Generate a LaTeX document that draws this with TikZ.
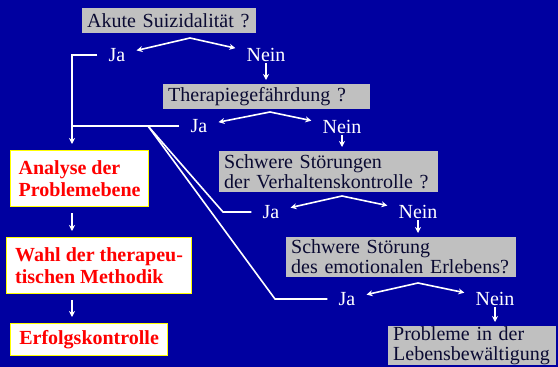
\documentclass[tikz,border=0pt]{standalone}
\usepackage{fontspec}
\setmainfont{Liberation Serif}
\usetikzlibrary{arrows.meta}
\definecolor{bgblue}{RGB}{0,0,160}
\definecolor{boxgray}{RGB}{192,192,192}
\definecolor{navy}{RGB}{10,10,50}
\definecolor{boxyellow}{RGB}{255,255,0}
\tikzset{
 frage/.style={fill=boxgray,text=navy,anchor=north west,inner xsep=5pt,inner ysep=0pt,align=left,font=\fontsize{20}{20}\selectfont},
 antw/.style={text=white,inner xsep=11pt,inner ysep=1pt,font=\fontsize{20}{20}\selectfont},
 schritt/.style={fill=white,draw=boxyellow,line width=1.2pt,text=red,anchor=north west,inner xsep=4pt,inner ysep=0pt,align=left,font=\fontsize{20}{22}\selectfont\bfseries},
 line/.style={white,line width=1.6pt},
 pfeil/.style={line,-{Stealth[length=6pt,width=6pt]}}
}
\begin{document}
\begin{tikzpicture}
[x=1pt,y=-1pt]
\fill[bgblue] (0,0) rectangle (558,367);

\node[frage,text width=164,minimum height=25] (q1) at (82,8) {Akute Suizidalität ?};
\node[antw] (j1) at (117,55) {Ja};
\node[antw] (n1) at (266,55) {Nein};

\node[frage,text width=197,minimum height=25] (q2) at (163,84) {Therapiegefährdung ?};
\node[antw] (j2) at (199,126) {Ja};
\node[antw] (n2) at (342,127) {Nein};

\node[frage,text width=209,minimum height=41] (q3) at (219,151) {Schwere Störungen\\der Verhaltenskontrolle ?};
\node[antw] (j3) at (271,212) {Ja};
\node[antw] (n3) at (418,212) {Nein};

\node[frage,text width=220,minimum height=40] (q4) at (286,237) {Schwere Störung\\des emotionalen Erlebens?};
\node[antw] (j4) at (347,299) {Ja};
\node[antw] (n4) at (495,299) {Nein};

\node[frage,text width=158,minimum height=39] (q5) at (388,326) {Probleme in der\\Lebensbewältigung};

\node[schritt,minimum width=138,minimum height=56] (b1) at (10,150) {Analyse der\\Problemebene};
\node[schritt,minimum width=185,minimum height=56] (b2) at (6,237) {Wahl der therapeu-\\tischen Methodik};
\node[schritt,minimum width=157,minimum height=32] (b3) at (10,323) {Erfolgskontrolle};

\coordinate (a1) at (190,38);
\coordinate (a2) at (270,112);
\coordinate (a3) at (342,196);
\coordinate (a4) at (418,283);
\coordinate (c1) at (72,55);
\coordinate (d0) at (148,126);
\coordinate (d1) at (223,212);
\coordinate (d2) at (275,299);

\foreach \a/\j/\n in {a1/j1/n1,a2/j2/n2,a3/j3/n3,a4/j4/n4}
{\draw[pfeil] (\a) -- (\j); \draw[pfeil] (\a) -- (\n);}
\foreach \n/\q in {n1/q2,n2/q3,n3/q4,n4/q5}
\draw[pfeil,shorten >=4pt] (\n) -- (\n |- \q.north);

\draw[pfeil,shorten >=6pt] (j1) -- (c1) -- (c1 |- b1.north);
\draw[line] (j2) -- (j2 -| c1);
\draw[line] (j3) -- (d1) -- (d0);
\draw[line] (j4) -- (d2) -- (d0);
\foreach \from/\to in {b1/b2,b2/b3}
\draw[pfeil,shorten <=6pt,shorten >=6pt] (\from.south -| c1) -- (\to.north -| c1);
\end{tikzpicture}
\end{document}
